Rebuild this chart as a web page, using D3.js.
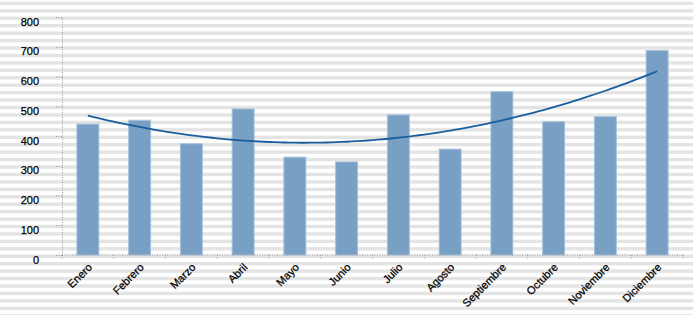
<!DOCTYPE html>
<html>
<head>
<meta charset="utf-8">
<script src="https://cdn.jsdelivr.net/npm/d3@7"></script>
<style>
  body { margin: 0; background: #fff; }
  svg text { font-family: "Liberation Sans Narrow", "Arial Narrow", "Liberation Sans", sans-serif; font-size: 11px; fill: #000; stroke: #000; stroke-width: 0.25px; }
</style>
</head>
<body>
<div id="chart"></div>
<script>
var months = ["Enero", "Febrero", "Marzo", "Abril", "Mayo", "Junio", "Julio", "Agosto", "Septiembre", "Octubre", "Noviembre", "Diciembre"]
var values = [440, 453, 374, 491, 329, 313, 471, 356, 549, 448, 465, 687]
var yTicks = [0, 100, 200, 300, 400, 500, 600, 700, 800]

var W = 693, H = 315

var svg = d3.select("#chart")
    .append("svg")
    .attr("width", W)
    .attr("height", H)

// striped background
var stripes = svg.append("g")
for (var s = 1.7 - 7.4375; s < H; s += 7.4375) {
    stripes.append("rect")
        .attr("x", 0).attr("y", s)
        .attr("width", W).attr("height", 3.4)
        .attr("fill", "#e4e4e4")
}

const x = d3.scaleBand()
    .range([62, 683])
    .domain(months)
    .paddingInner(0.575)
    .paddingOuter(0.2875)

const y = d3.scaleLinear()
    .range([255, 17])
    .domain([0, 800])

// bars
svg.selectAll("mybar")
    .data(months)
    .join("rect")
    .attr("x", d => x(d))
    .attr("y", (d, i) => y(values[i]))
    .attr("width", x.bandwidth())
    .attr("height", (d, i) => y(0) - y(values[i]))
    .attr("fill", "#789fc4")
    .attr("stroke", "#a9c2db")
    .attr("stroke-width", 1)

// y axis
var yAxis = svg.append("g")
    .attr("transform", "translate(62,0)")
    .call(d3.axisLeft(y).tickValues(yTicks).tickSize(6).tickPadding(0).tickSizeOuter(0))
yAxis.select(".domain").attr("stroke", "#9a9a9a").attr("stroke-dasharray", "1,1.5")
yAxis.selectAll(".tick line").attr("stroke", "#9a9a9a").attr("stroke-dasharray", "1,1.5")
yAxis.selectAll(".tick text")
    .attr("x", -23)
    .attr("dy", null)
    .attr("y", 8)
    .style("font-size", "11px")

// x axis (ticks at band boundaries)
var boundaries = d3.range(months.length + 1).map(i => 62 + i * (621 / months.length))
var xAxis = svg.append("g")
xAxis.append("line")
    .attr("x1", 62).attr("x2", 683)
    .attr("y1", y(0)).attr("y2", y(0))
    .attr("stroke", "#9a9a9a").attr("stroke-dasharray", "1,1.5")
xAxis.selectAll("tk")
    .data(boundaries)
    .join("line")
    .attr("x1", d => d).attr("x2", d => d)
    .attr("y1", y(0)).attr("y2", y(0) + 5)
    .attr("stroke", "#9a9a9a").attr("stroke-dasharray", "1,1.5")

svg.append("g")
    .selectAll("text")
    .data(months)
    .join("text")
    .attr("transform", d => "translate(" + (x(d) + x.bandwidth() / 2 + 5) + ",268)rotate(-45)")
    .style("text-anchor", "end")
    .text(d => d)

// polynomial (order 2) trendline, least squares over the data
function quadFit(xs, ys) {
    var S = [0, 0, 0, 0, 0], T = [0, 0, 0]
    xs.forEach((xv, i) => {
        for (var k = 0; k < 5; k++) S[k] += Math.pow(xv, k)
        for (var k = 0; k < 3; k++) T[k] += Math.pow(xv, k) * ys[i]
    })
    var A = [[S[0], S[1], S[2], T[0]], [S[1], S[2], S[3], T[1]], [S[2], S[3], S[4], T[2]]]
    for (var c = 0; c < 3; c++) {
        for (var r = c + 1; r < 3; r++) {
            var f = A[r][c] / A[c][c]
            for (var k = c; k < 4; k++) A[r][k] -= f * A[c][k]
        }
    }
    var b = [0, 0, 0]
    for (var r = 2; r >= 0; r--) {
        var sum = A[r][3]
        for (var k = r + 1; k < 3; k++) sum -= A[r][k] * b[k]
        b[r] = sum / A[r][r]
    }
    return b
}
var idx = months.map((d, i) => i + 1)
var coef = quadFit(idx, values)
var trend = d3.range(1, 12.01, 0.1).map(t => [t, coef[0] + coef[1] * t + coef[2] * t * t])
var xc = d3.scaleLinear().domain([1, 12]).range([x(months[0]) + x.bandwidth() / 2, x(months[11]) + x.bandwidth() / 2])

svg.append("path")
    .datum(trend)
    .attr("fill", "none")
    .attr("stroke", "#1a5e9e")
    .attr("stroke-width", 1.8)
    .attr("d", d3.line().x(d => xc(d[0])).y(d => y(d[1])))
</script>
</body>
</html>
